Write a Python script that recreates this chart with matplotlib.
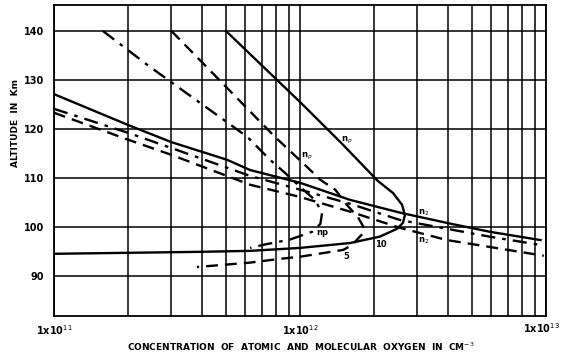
import matplotlib.pyplot as plt

# n2 profiles: concentration (cm-3) vs altitude (km)
n2_solid_x = [1.0e11, 2.0e11, 3.0e11, 5.05e11, 6.27e11, 1.0e12, 1.6e12, 2.55e12, 3.96e12, 5.9e12, 9.5e12]
n2_solid_y = [127.1, 120.8, 117.3, 113.7, 111.6, 109.0, 105.5, 102.9, 100.8, 99.0, 97.3]

n2_dashdot_x = [1.0e11, 2.0e11, 3.0e11, 6.27e11, 1.0e12, 1.6e12, 2.55e12, 3.96e12, 5.9e12, 9.5e12]
n2_dashdot_y = [124.1, 119.2, 116.1, 110.4, 107.6, 104.7, 101.4, 99.6, 98.0, 96.3]

n2_dashed_x = [1.0e11, 2.0e11, 3.0e11, 6.27e11, 1.0e12, 1.6e12, 2.55e12, 3.96e12, 5.9e12, 9.8e12]
n2_dashed_y = [123.3, 117.8, 114.7, 108.6, 106.1, 103.1, 99.8, 97.3, 95.9, 94.1]

# np profiles
np10_x = [5.0e11, 1.0e12, 1.46e12, 2.07e12, 2.39e12, 2.60e12, 2.67e12, 2.62e12, 2.48e12,
          2.11e12, 1.60e12, 1.0e12, 6.27e11, 3.92e11, 2.0e11, 1.0e11]
np10_y = [140.0, 125.5, 117.3, 109.4, 106.9, 104.5, 102.4, 100.8, 99.6,
          98.0, 96.7, 95.7, 95.1, 94.9, 94.7, 94.5]

np5_x = [3.0e11, 7.9e11, 1.07e12, 1.21e12, 1.39e12, 1.55e12, 1.72e12, 1.82e12, 1.80e12,
         1.75e12, 1.63e12, 1.50e12, 1.0e12, 8.4e11, 6.27e11, 3.81e11]
np5_y = [140.0, 118.4, 112.2, 109.6, 107.6, 104.5, 102.0, 99.8, 98.6,
         98.0, 96.3, 95.3, 93.9, 93.5, 92.7, 91.8]

npdd_x = [1.58e11, 2.45e11, 6.1e11, 7.55e11, 8.7e11, 1.0e12, 1.15e12, 1.23e12, 1.21e12,
          1.12e12, 9.1e11, 7.2e11, 6.27e11]
npdd_y = [140.0, 132.7, 118.4, 113.7, 111.0, 108.2, 105.5, 102.9, 100.6,
          99.0, 97.4, 96.4, 95.7]

# curve labels
labels = ["n$_p$", "n$_p$", "np", "10", "5", "n$_2$", "n$_2$"]
label_x = [1.55e12, 1.07e12, 1.23e12, 2.13e12, 1.54e12, 3.19e12, 3.19e12]
label_y = [117.6, 114.3, 98.8, 96.3, 93.9, 102.9, 97.1]

grid_x = [k * 10**e for e in (11, 12) for k in range(1, 10)] + [1e13]
grid_y = [90, 100, 110, 120, 130, 140]

plt.rcParams['font.family'] = ['DejaVu Sans']
fig = plt.figure(figsize=(5.62, 3.62), dpi=100)
ax = fig.add_axes([0.0961, 0.1271, 0.8754, 0.8591])
ax.set_xscale('log')
ax.set_xlim(1e11, 1e13)
ax.set_ylim(81.8, 145.3)

ax.set_xticks(grid_x)
ax.set_xticks([], minor=True)
xlab = {1e11: "1x10$^{11}$", 1e12: "1x10$^{12}$"}
ax.set_xticklabels([xlab.get(v, "") for v in grid_x], fontsize=7, fontweight='bold')
ax.set_yticks(grid_y)
ax.set_yticklabels([str(v) for v in grid_y], fontsize=7, fontweight='bold')
ax.tick_params(axis='x', length=0, pad=5)
ax.tick_params(axis='y', length=0, pad=7)
ax.grid(True, color='black', linewidth=1.1)
for s in ax.spines.values():
    s.set_linewidth(1.3)
# last decade label sits against the right edge
fig.text(0.997, 0.127 - 0.014, "1x10$^{13}$", fontsize=7, fontweight='bold',
         ha='right', va='top')

lw = 1.7
ax.plot(n2_solid_x, n2_solid_y, color='black', lw=lw)
ax.plot(n2_dashdot_x, n2_dashdot_y, color='black', lw=lw, dashes=(6, 3, 1.5, 3))
ax.plot(n2_dashed_x, n2_dashed_y, color='black', lw=lw, dashes=(5, 3))
ax.plot(np10_x, np10_y, color='black', lw=lw)
ax.plot(np5_x, np5_y, color='black', lw=lw, dashes=(5, 3))
ax.plot(npdd_x, npdd_y, color='black', lw=lw, dashes=(6, 3, 1.5, 3))

for t, x, y in zip(labels, label_x, label_y):
    ax.text(x, y, t, fontsize=6, fontweight='bold', ha='center', va='center')

ax.set_ylabel("ALTITUDE  IN  Km", fontsize=6.5, fontweight='bold')
ax.yaxis.set_label_coords(-0.07, 0.62)
fig.text(0.535, 0.025, "CONCENTRATION  OF  ATOMIC  AND  MOLECULAR  OXYGEN  IN  CM$^{-3}$",
         fontsize=6.5, fontweight='bold', ha='center', va='bottom')

fig.savefig("out.png", dpi=100)
